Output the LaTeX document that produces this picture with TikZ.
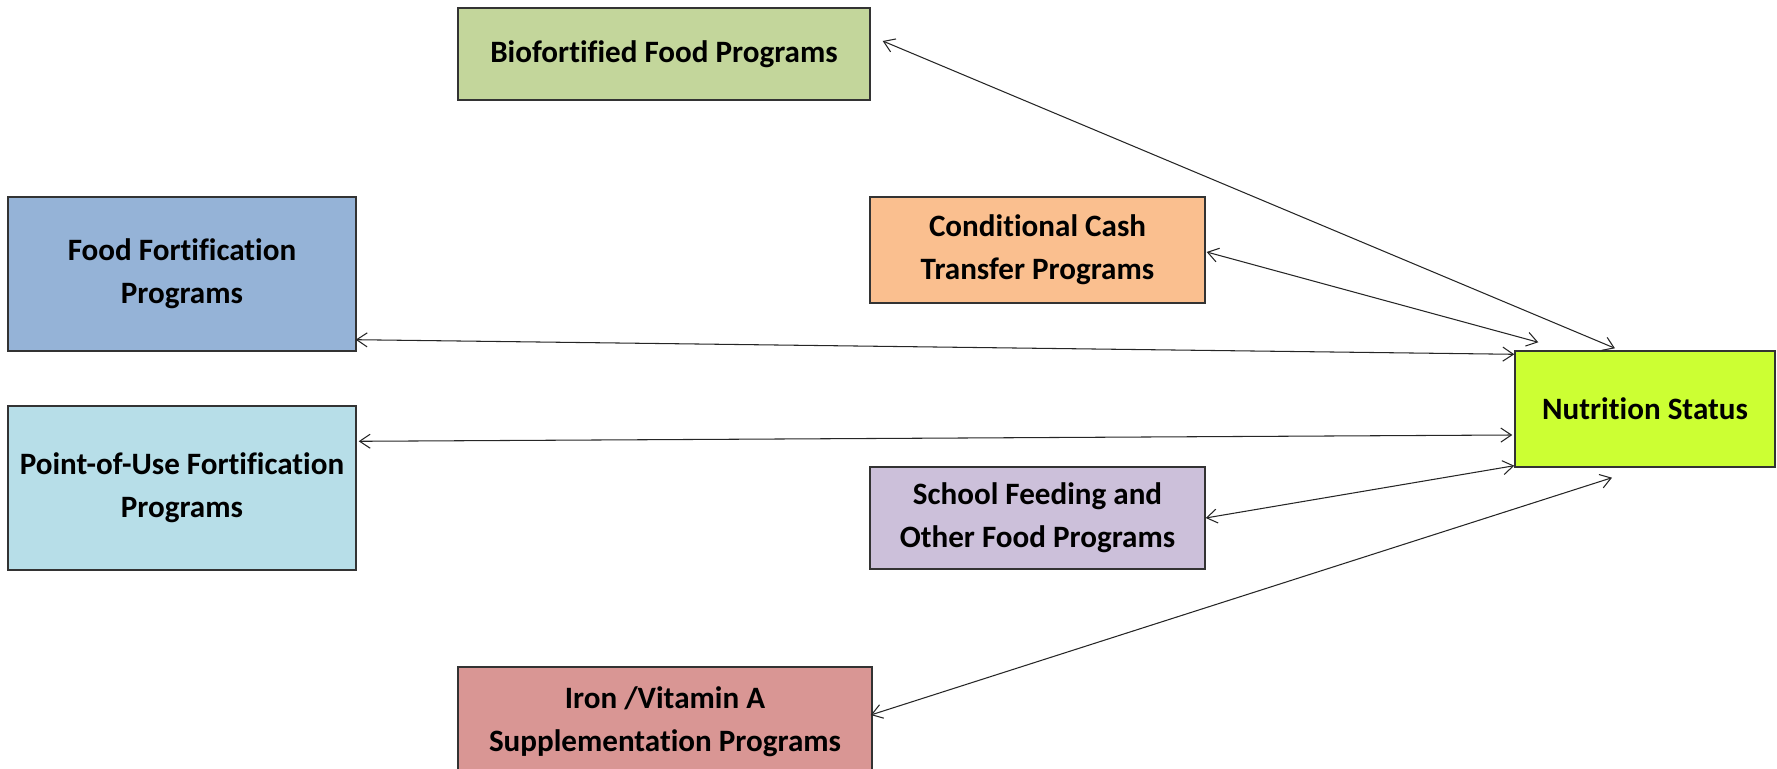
\documentclass[tikz,border=0pt]{standalone}
\usepackage{fontspec}
\setmainfont[Ligatures=NoCommon]{Carlito}
\usetikzlibrary{arrows.meta}

\definecolor{biocol}{HTML}{C3D69B}
\definecolor{ffcol}{HTML}{95B3D7}
\definecolor{pucol}{HTML}{B7DEE8}
\definecolor{cctcol}{HTML}{FABF8F}
\definecolor{sfcol}{HTML}{CCC0DA}
\definecolor{ironcol}{HTML}{D99694}
\definecolor{nscol}{HTML}{CCFF33}

\tikzset{
    prog/.style={draw=black!80, line width=0.8pt, rectangle, align=center,
        inner sep=0pt, font=\fontsize{17.7}{24.5}\selectfont\bfseries},
    link/.style={black!85, line width=0.6pt,
        {Straight Barb[length=6pt,width=8pt]}-{Straight Barb[length=6pt,width=8pt]}}
}

\begin{document}
\begin{tikzpicture}[x=0.2mm, y=-0.2mm]
        \useasboundingbox (0,0) rectangle (1777,769);

        % Cajas de programas
        \node[prog, fill=biocol, minimum width=412*0.2mm, minimum height=92*0.2mm]
            (bio) at (664,54) {Biofortified Food Programs};
        \node[prog, fill=ffcol, minimum width=348*0.2mm, minimum height=154*0.2mm]
            (ff) at (182,274) {Food Fortification\\Programs};
        \node[prog, fill=pucol, minimum width=348*0.2mm, minimum height=164*0.2mm]
            (pu) at (182,488) {Point-of-Use Fortification\\Programs};
        \node[prog, fill=cctcol, minimum width=335*0.2mm, minimum height=106*0.2mm]
            (cct) at (1037.5,250) {Conditional Cash\\Transfer Programs};
        \node[prog, fill=sfcol, minimum width=335*0.2mm, minimum height=102*0.2mm]
            (sf) at (1037.5,518) {School Feeding and\\Other Food Programs};
        \node[prog, fill=ironcol, minimum width=414*0.2mm, minimum height=110*0.2mm]
            (iron) at (665,722) {Iron /Vitamin A\\Supplementation Programs};

        % Caja central
        \node[prog, fill=nscol, minimum width=260*0.2mm, minimum height=116*0.2mm]
            (ns) at (1645,409) {Nutrition Status};

        % Flechas hacia el estado nutricional
        \draw[link] ([shift={(12,-13)}]bio.east) -- ([shift={(-30,-2)}]ns.north);
        \draw[link] ([shift={(1,2)}]cct.east) -- ([shift={(24,-8)}]ns.north west);
        \draw[link] ([shift={(-1,-12)}]ff.south east) -- ([shift={(0,4)}]ns.north west);
        \draw[link] ([shift={(2,36)}]pu.north east) -- ([shift={(-2,26)}]ns.west);
        \draw[link] (sf.east) -- ([shift={(0,-2)}]ns.south west);
        \draw[link] ([shift={(-2,-7)}]iron.east) -- ([shift={(-33,10)}]ns.south);

\end{tikzpicture}
\end{document}
